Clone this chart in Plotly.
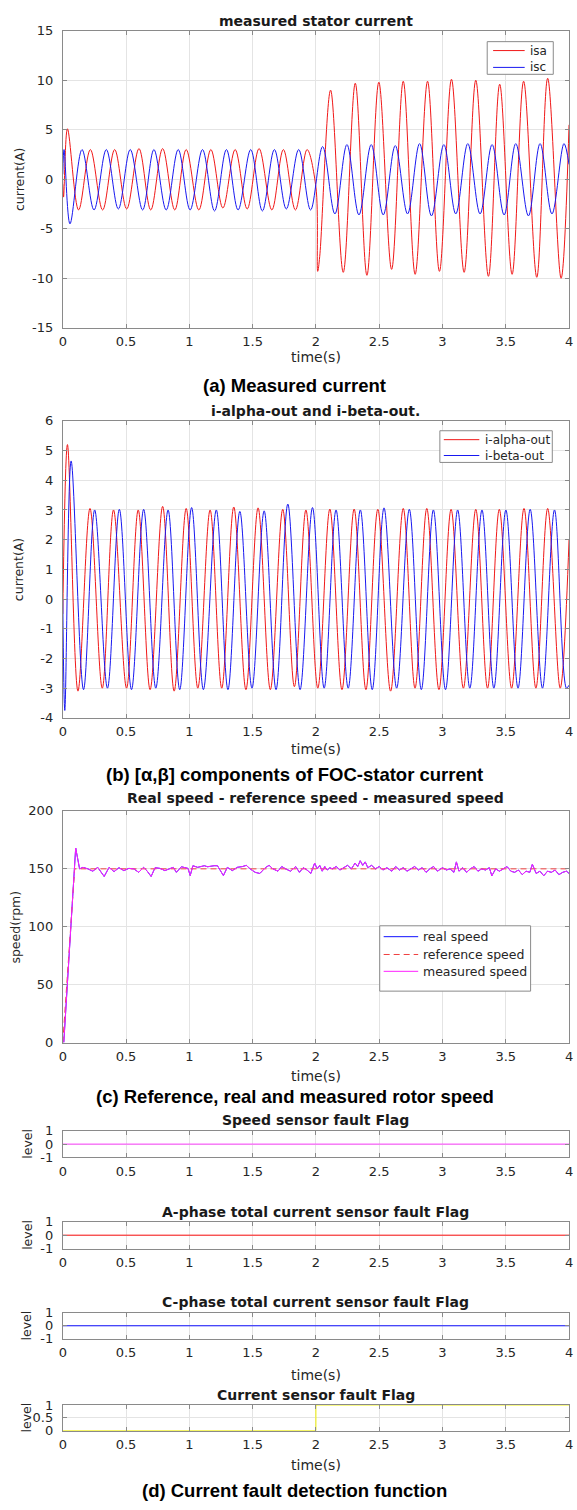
import plotly.graph_objects as go

W, H = 577, 1510

# ---------------- data ----------------
# (a) measured stator current: extrema of isa / isc
isa_t = [0.0, 0.006, 0.037, 0.125, 0.218, 0.315, 0.41, 0.505, 0.602, 0.695, 0.789, 0.885,
         0.975, 1.075, 1.17, 1.265, 1.362, 1.457, 1.551, 1.652, 1.743, 1.838, 1.93, 2.0,
         2.014, 2.03, 2.116, 2.216, 2.311, 2.403, 2.497, 2.598, 2.69, 2.784, 2.882, 2.976,
         3.071, 3.171, 3.263, 3.363, 3.452, 3.55, 3.641, 3.745, 3.831, 3.937, 4.0]
isa_v = [-0.5, -1.8, 5.1, -3.1, 3.0, -3.1, 3.0, -3.0, 3.1, -3.1, 3.1, -3.1,
         3.0, -3.1, 3.0, -2.9, 3.0, -3.0, 3.1, -3.1, 3.0, -3.1, 3.0, -0.8,
         -9.3, -7.8, 9.0, -9.4, 9.7, -9.7, 9.8, -9.1, 9.9, -9.6, 9.9, -9.3,
         10.1, -9.4, 10.0, -9.8, 9.6, -9.6, 9.9, -9.9, 10.2, -10.0, 5.5]

isc_t = [0.0, 0.01, 0.057, 0.152, 0.247, 0.344, 0.439, 0.533, 0.631, 0.72, 0.817, 0.912,
         1.006, 1.104, 1.199, 1.293, 1.385, 1.485, 1.577, 1.672, 1.766, 1.864, 1.958, 2.053,
         2.15, 2.245, 2.34, 2.437, 2.532, 2.627, 2.724, 2.819, 2.913, 3.011, 3.105, 3.2,
         3.297, 3.392, 3.487, 3.579, 3.679, 3.771, 3.865, 3.96, 4.0]
isc_v = [0.5, 3.0, -4.5, 3.0, -3.1, 3.0, -3.0, 3.0, -3.1, 3.0, -3.1, 3.0,
         -3.1, 3.0, -3.2, 3.0, -3.1, 3.0, -3.2, 3.0, -3.0, 3.0, -3.1, 3.3,
         -3.5, 3.5, -3.6, 3.5, -3.6, 3.4, -3.5, 3.6, -3.7, 3.5, -3.5, 3.6,
         -3.5, 3.5, -3.6, 3.6, -3.7, 3.6, -3.5, 3.6, 1.5]

# (b) alpha / beta components
ia_t = [0.0, 0.037, 0.12, 0.215, 0.312, 0.401, 0.504, 0.596, 0.69, 0.789, 0.88, 0.975,
        1.067, 1.164, 1.256, 1.351, 1.447, 1.543, 1.64, 1.738, 1.83, 1.921, 2.015, 2.11,
        2.206, 2.302, 2.395, 2.489, 2.59, 2.69, 2.783, 2.876, 2.972, 3.068, 3.165, 3.263,
        3.356, 3.449, 3.546, 3.644, 3.738, 3.831, 3.93, 4.0]
ia_v = [-0.5, 5.2, -3.1, 3.05, -3.0, 3.0, -3.0, 3.0, -3.05, 3.12, -3.1, 3.05,
        -3.0, 3.0, -3.0, 3.1, -3.05, 3.07, -3.05, 3.02, -2.95, 3.0, -3.0, 3.03,
        -3.05, 3.03, -3.05, 3.02, -3.1, 3.05, -3.0, 3.05, -3.05, 3.02, -3.0, 3.02,
        -3.0, 3.02, -3.0, 3.05, -3.0, 3.05, -3.0, 2.0]

ib_t = [0.0, 0.016, 0.066, 0.164, 0.252, 0.353, 0.447, 0.543, 0.639, 0.735, 0.832, 0.924,
        1.018, 1.111, 1.213, 1.305, 1.399, 1.495, 1.591, 1.685, 1.778, 1.875, 1.973, 2.065,
        2.159, 2.255, 2.351, 2.445, 2.538, 2.638, 2.738, 2.833, 2.928, 3.024, 3.12, 3.216,
        3.312, 3.406, 3.501, 3.597, 3.693, 3.79, 3.885, 3.98, 4.0]
ib_v = [0.0, -3.75, 4.65, -3.05, 3.0, -3.0, 3.02, -3.05, 3.02, -3.0, 3.0, -3.05,
        3.08, -3.05, 3.0, -3.05, 2.95, -3.0, 2.97, -3.05, 3.2, -3.05, 3.08, -3.0,
        3.0, -3.0, 3.0, -3.05, 3.07, -3.0, 3.02, -3.05, 3.0, -3.05, 3.0, -3.0,
        3.0, -3.0, 3.0, -3.0, 3.02, -3.0, 3.0, -3.0, -2.9]

# (c) speeds
ref_t = [0.0, 0.094, 4.0]
ref_v = [0.0, 150.0, 150.0]

meas_t = [0.008, 0.09, 0.102, 0.133, 0.159, 0.198, 0.237, 0.276, 0.327, 0.366, 0.405, 0.444,
          0.483, 0.522, 0.561, 0.6, 0.638, 0.664, 0.698, 0.729, 0.768, 0.807, 0.846, 0.872,
          0.898, 0.937, 0.989, 1.007, 1.028, 1.066, 1.118, 1.144, 1.196, 1.222, 1.269, 1.3,
          1.339, 1.378, 1.42, 1.45, 1.48, 1.52, 1.557, 1.6, 1.63, 1.66, 1.7, 1.73,
          1.76, 1.8, 1.84, 1.87, 1.9, 1.93, 1.96, 1.99, 2.01, 2.03, 2.05, 2.07,
          2.09, 2.11, 2.13, 2.16, 2.19, 2.22, 2.25, 2.28, 2.31, 2.33, 2.35, 2.37,
          2.39, 2.41, 2.44, 2.47, 2.5, 2.53, 2.56, 2.6, 2.63, 2.66, 2.69, 2.72,
          2.75, 2.78, 2.81, 2.84, 2.87, 2.9, 2.93, 2.96, 3.0, 3.03, 3.06, 3.09,
          3.11, 3.13, 3.16, 3.19, 3.22, 3.25, 3.28, 3.31, 3.34, 3.37, 3.39, 3.42,
          3.45, 3.48, 3.51, 3.54, 3.57, 3.6, 3.63, 3.66, 3.69, 3.71, 3.74, 3.77,
          3.8, 3.83, 3.86, 3.89, 3.92, 3.95, 3.98, 4.0]
meas_v = [0, 150, 168, 150, 151.3, 150, 148, 151.3, 143.4, 151.3, 147.6, 151,
          148.5, 150.4, 150, 147, 151.3, 148.5, 143.4, 151, 150.4, 148.5, 150, 151.3,
          147, 151.8, 150.4, 144.2, 152.7, 151.3, 152.7, 151.8, 152.7, 152.7, 144.2, 151.3,
          148.5, 151.3, 152, 153, 150, 147, 146, 151, 153, 150, 148, 152,
          150, 148, 152, 147, 151, 149, 146, 155, 150, 153, 148, 152,
          149, 151, 150, 152, 149, 151, 153, 150, 155, 152, 157, 153,
          156, 151, 153, 150, 152, 149, 151, 148, 152, 149, 151, 148,
          150, 152, 149, 151, 147, 150, 152, 148, 151, 149, 150, 147,
          156, 148, 151, 147, 150, 152, 148, 150, 149, 151, 144, 150,
          148, 150, 152, 148, 147, 149, 145, 148, 147, 154, 146, 148,
          144, 148, 147, 149, 145, 147, 148, 146]
# real speed lies under the measured trace everywhere in the picture
real_t = list(meas_t)
real_v = list(meas_v)

# (d) fault flags
flag_t = [0.0, 4.0]
speed_flag = [0, 0]
a_flag = [0, 0]
c_flag = [0, 0]
cur_flag_t = [0.0, 2.0, 2.0, 4.0]
cur_flag_v = [0, 0, 1, 1]

x_ticks = [0, 0.5, 1, 1.5, 2, 2.5, 3, 3.5, 4]

# ---------------- layout helpers ----------------
def ydom(top, bottom):
    return [1 - bottom / H, 1 - top / H]

def py(p):
    return 1 - p / H

def px(p):
    return p / W

XL, XR = 59.6, 573.0
XC = (XL + XR) / 2
TICKFONT = dict(family="DejaVu Sans", size=13, color="#262626")
AXCOL = "#8a8a8a"
RED, BLUE, MAG = "#f01818", "#1818f0", "#ff20ff"

panels = [
    (24, 324, [-15, 15], [-15, -10, -5, 0, 5, 10, 15]),
    (418, 718, [-4, 6], [-4, -3, -2, -1, 0, 1, 2, 3, 4, 5, 6]),
    (812, 1046, [0, 200], [0, 50, 100, 150, 200]),
    (1135, 1162, [-1, 1], [-1, 0, 1]),
    (1227, 1254, [-1, 1], [-1, 0, 1]),
    (1319, 1345, [-1, 1], [-1, 0, 1]),
    (1412, 1438, [0, 1], [0, 0.5, 1]),
]

fig = go.Figure()

def line(x, y, color, name, idx, dash=None, shape="linear"):
    fig.add_trace(go.Scatter(
        x=x, y=y, mode="lines", name=name,
        line=dict(color=color, width=1, dash=dash, shape=shape, smoothing=1.0),
        xaxis="x" if idx == 1 else f"x{idx}", yaxis="y" if idx == 1 else f"y{idx}",
        showlegend=False, hoverinfo="skip"))

line(isa_t, isa_v, RED, "isa", 1, shape="spline")
line(isc_t, isc_v, BLUE, "isc", 1, shape="spline")
line(ia_t, ia_v, RED, "i-alpha-out", 2, shape="spline")
line(ib_t, ib_v, BLUE, "i-beta-out", 2, shape="spline")
line(real_t, real_v, "#1010ff", "real speed", 3)
line(ref_t, ref_v, "#f04040", "reference speed", 3, dash="6px,4px")
line(meas_t, meas_v, MAG, "measured speed", 3)
line(flag_t, speed_flag, "#ff40ff", "speed flag", 4)
line(flag_t, a_flag, "#ff1010", "A flag", 5)
line(flag_t, c_flag, "#1010ff", "C flag", 6)
line(cur_flag_t, cur_flag_v, "#f0f000", "current flag", 7)

layout = dict(
    width=W, height=H, margin=dict(l=0, r=0, t=0, b=0),
    paper_bgcolor="white", plot_bgcolor="white", showlegend=False,
)

for i, (top, bot, yr, yt) in enumerate(panels, start=1):
    sfx = "" if i == 1 else str(i)
    layout[f"xaxis{sfx}"] = dict(
        domain=[px(XL), px(XR)], range=[0, 4], anchor=f"y{sfx}",
        tickvals=x_ticks, ticktext=[f"{v:g}" for v in x_ticks],
        showline=True, linecolor=AXCOL, linewidth=1, mirror="allticks",
        ticks="inside", ticklen=4, tickcolor=AXCOL,
        showgrid=True, gridcolor="#e4e4e4", gridwidth=1, zeroline=False,
        tickfont=TICKFONT, ticklabelstandoff=2, ticklabeloverflow="allow")
    layout[f"yaxis{sfx}"] = dict(
        domain=ydom(top, bot), range=yr, anchor=f"x{sfx}",
        tickvals=yt, ticktext=[f"{v:g}" for v in yt],
        showline=True, linecolor=AXCOL, linewidth=1, mirror="allticks",
        ticks="inside", ticklen=4, tickcolor=AXCOL,
        showgrid=True, gridcolor="#e4e4e4", gridwidth=1, zeroline=False,
        tickfont=TICKFONT, ticklabelstandoff=6, ticklabeloverflow="allow")

ann = []
shapes = []

def text(s, x, y, size, bold=False, family="DejaVu Sans", angle=0, color="#000000", anchor="center"):
    ann.append(dict(text=f"<b>{s}</b>" if bold else s, x=px(x), y=py(y), xref="paper", yref="paper",
                    showarrow=False, xanchor=anchor, yanchor="middle", textangle=angle,
                    font=dict(family=family, size=size, color=color)))

# hand-drawn legend boxes (MATLAB style, tight entry spacing)
def legend_box(x0, x1, y0, y1, entries, lx0, lx1, tx, size):
    shapes.append(dict(type="rect", xref="paper", yref="paper", x0=px(x0), x1=px(x1),
                       y0=py(y1), y1=py(y0), line=dict(color="#8a8a8a", width=1),
                       fillcolor="white", layer="above"))
    for name, color, dash, yy in entries:
        shapes.append(dict(type="line", xref="paper", yref="paper", x0=px(lx0), x1=px(lx1),
                           y0=py(yy), y1=py(yy), line=dict(color=color, width=1, dash=dash),
                           layer="above"))
        text(name, tx, yy, size, color="#262626", anchor="left")

legend_box(490, 557, 35, 68, [("isa", RED, None, 44), ("isc", BLUE, None, 61)],
           496, 528, 531, 12)
legend_box(442, 556, 428, 460, [("i-alpha-out", RED, None, 437), ("i-beta-out", BLUE, None, 453)],
           446, 482, 486, 12)
legend_box(381, 534, 928, 994, [("real speed", "#1010ff", None, 939),
                                ("reference speed", "#f04040", "6px,4px", 957),
                                ("measured speed", MAG, None, 974)],
           385, 420, 423, 12.5)

titles = ["measured stator current", "i-alpha-out and i-beta-out.",
          "Real speed - reference speed - measured speed", "Speed sensor fault Flag",
          "A-phase total current sensor fault Flag", "C-phase total current sensor fault Flag",
          "Current sensor fault Flag"]
title_y = [14, 408, 799, 1124, 1217, 1308, 1402]
for t, y in zip(titles, title_y):
    text(t, XC, y, 14, bold=True, color="#1a1a1a")

for y in [354, 749, 1080, 1382, 1473]:
    text("time(s)", XC, y, 14, color="#262626")

ylabels = [("current(A)", 15, 174), ("current(A)", 15, 568), ("speed(rpm)", 12, 929),
           ("level", 23, 1148.5), ("level", 23, 1240.5), ("level", 23, 1332), ("level", 23, 1425)]
for s, x, y in ylabels:
    text(s, x, y, 12.5, angle=-90, color="#262626")

captions = [("(a) Measured current", 382), ("(b) [α,β] components of FOC-stator current", 775),
            ("(c) Reference, real and measured rotor speed", 1100),
            ("(d) Current fault detection function", 1498)]
for s, y in captions:
    text(s, 295, y, 18.5, bold=True, family="Liberation Sans")

layout["annotations"] = ann
layout["shapes"] = shapes
fig.update_layout(**layout)
fig.write_html("out.html")
